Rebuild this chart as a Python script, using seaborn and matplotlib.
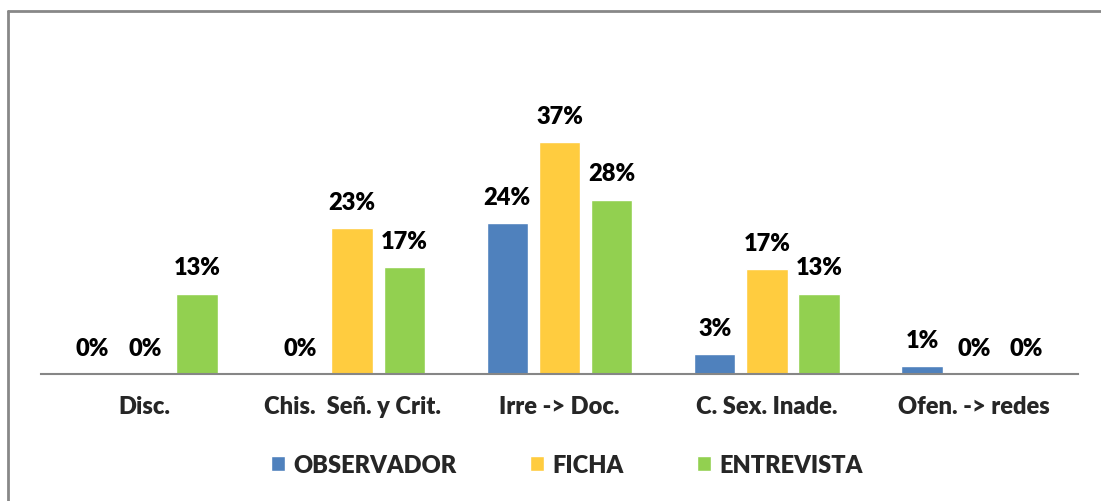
import pandas as pd
import seaborn as sns
import matplotlib.pyplot as plt
from matplotlib.lines import Line2D

categorias = ["Disc.", "Chis.  Señ. y Crit.", "Irre -> Doc.", "C. Sex. Inade.", "Ofen. -> redes"]
series = ["OBSERVADOR", "FICHA", "ENTREVISTA"]
observador = [0, 0, 24.1, 3.2, 1.2]
ficha = [0, 23.3, 37.0, 16.7, 0]
entrevista = [12.8, 17.1, 27.8, 12.8, 0]
colores = ["#4F81BD", "#FFCC3F", "#92D050"]

df = pd.DataFrame({
    "cat": categorias * 3,
    "serie": [s for s in series for _ in categorias],
    "val": observador + ficha + entrevista,
})

sns.set_style("white")
plt.rcParams["font.family"] = ["Lato", "DejaVu Sans"]
plt.rcParams["font.weight"] = "bold"

fig = plt.figure(figsize=(11.01, 5.02), dpi=100)
ax = fig.add_axes([41 / 1101, 127 / 502, 1037 / 1101, 250.8 / 502])

sns.barplot(data=df, x="cat", y="val", hue="serie", palette=colores,
            width=0.755, gap=0.21, ax=ax, saturation=1)

for cont in ax.containers:
    vals = [b.get_height() for b in cont]
    ax.bar_label(cont, labels=[f"{round(v)}%" for v in vals], padding=11,
                 fontsize=17, fontweight="heavy", color="black")

ax.set_xlim(-0.5, 4.5)
ax.set_ylim(0, 40)
ax.set_xlabel("")
ax.set_ylabel("")
ax.set_yticks([])
ax.tick_params(axis="x", length=0, pad=15, labelsize=17)
for lab in ax.get_xticklabels():
    lab.set_fontweight("heavy")
for s in ["left", "right", "top"]:
    ax.spines[s].set_visible(False)
ax.spines["bottom"].set_color("#868686")
ax.spines["bottom"].set_linewidth(1.5)

handles, labels = ax.get_legend_handles_labels()
ax.get_legend().remove()
fig.legend(handles, labels, loc="center", bbox_to_anchor=(567 / 1101, 36 / 502),
           ncol=3, frameon=False, handlelength=0.6, handleheight=0.6,
           handletextpad=0.35, columnspacing=3.1, prop={"weight": "heavy", "size": 17})

# marco gris del gráfico
fig.add_artist(Line2D([7.5 / 1101, 7.5 / 1101], [-0.05, 1 - 12 / 502],
                      transform=fig.transFigure, color="#888888", lw=2))
fig.add_artist(Line2D([7.5 / 1101, 1.05], [1 - 12 / 502, 1 - 12 / 502],
                      transform=fig.transFigure, color="#888888", lw=2))

fig.savefig("out.png", dpi=100)
